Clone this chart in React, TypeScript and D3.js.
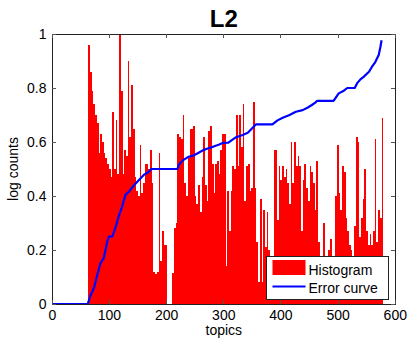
import React from 'react';
import * as d3 from 'd3';

// histogram: log counts per topic, grouped in 3-topic bins starting at topic 63
const binStart = 63;
const binWidth = 3;
const histValues = [
  0.96, 0.86, 0.79, 0.74, 0.70, 0.67, 0.56, 0.63, 0.60, 0.56,
  0.54, 0.52, 0.50, 0.47, 0.71, 0.50, 0.68, 0.48, 1.0, 0.79,
  0.48, 0.57, 0.55, 0.90, 0.62, 0.81, 0.65, 0.47, 0.42, 0.40,
  0.59, 0.41, 0.45, 0.52, 0.52, 0.50, 0.57, 0.45, 0.12, 0.11,
  0.12, 0.56, 0.16, 0.27, 0.22, 0.22, 0, 0, 0, 0.115,
  0.28, 0.30, 0.63, 0.62, 0.61, 0.70, 0.45, 0.40, 0.54, 0.65,
  0.65, 0.66, 0.40, 0.37, 0.44, 0.34, 0.47, 0.62, 0.44, 0.38,
  0.64, 0.66, 0.52, 0.41, 0.52, 0.53, 0.48, 0.57, 0.63, 0.63,
  0.14, 0.42, 0.27, 0.42, 0.51, 0.50, 0.70, 0.51, 0.70, 0.58,
  0.74, 0.38, 0.51, 0.52, 0.42, 0.43, 0.75, 0.43, 0.23, 0.08,
  0.39, 0.08, 0.35, 0.21, 0.34, 0.20, 0.10, 0.10, 0.57, 0.57,
  0.31, 0.51, 0.46, 0.51, 0.47, 0.50, 0.45, 0.37, 0.60, 0.45,
  0.60, 0.51, 0.55, 0.51, 0.27, 0.46, 0.52, 0.43, 0.38, 0.51,
  0.49, 0.45, 0.35, 0.53, 0.23, 0.10, 0.12, 0.30, 0.08, 0.12,
  0.20, 0.24, 0.10, 0.08, 0.40, 0.59, 0.41, 0.35, 0.51, 0.49,
  0.32, 0.27, 0.22, 0.20, 0.16, 0.29, 0.62, 0.60, 0.25, 0.32,
  0.39, 0.50, 0.27, 0.22, 0.26, 0.22, 0.27, 0.61, 0.23, 0.35,
  0.32, 0.69,
];

// error curve (topic, value)
const errTopics = [
  0, 62, 66, 73, 79, 84, 90, 93, 96, 99, 105, 111, 117, 122, 128, 134, 143, 152, 160, 169,
  173, 219, 221, 229, 238, 247, 256, 264, 273, 282, 291, 299, 308, 314, 321, 333, 342, 348, 356, 385,
  394, 403, 415, 426, 438, 447, 454, 460, 463, 492, 501, 510, 516, 529, 533, 539, 545, 554, 559, 565,
  571, 574, 576,
];
const errValues = [
  0, 0, 0.027, 0.06, 0.11, 0.15, 0.17, 0.20, 0.23, 0.25, 0.25, 0.286, 0.33, 0.36, 0.404, 0.416, 0.44, 0.46, 0.478, 0.49,
  0.5, 0.5, 0.515, 0.533, 0.545, 0.55, 0.56, 0.57, 0.577, 0.583, 0.59, 0.597, 0.598, 0.607, 0.617, 0.626, 0.634, 0.647, 0.665, 0.665,
  0.68, 0.69, 0.70, 0.712, 0.718, 0.728, 0.737, 0.746, 0.752, 0.752, 0.78, 0.79, 0.80, 0.80, 0.817, 0.832, 0.842, 0.86, 0.878, 0.896,
  0.922, 0.953, 0.977,
];

const xTicks = [0, 100, 200, 300, 400, 500, 600];
const yTicks = [0, 0.2, 0.4, 0.6, 0.8, 1];

const W = 409;
const H = 339;
const margin = { left: 52.3, right: 13.7, top: 34, bottom: 35 };
const font = '"Liberation Sans", Arial, Helvetica, sans-serif';

export default function App() {
  const x = d3.scaleLinear().domain([0, 600]).range([margin.left, W - margin.right]);
  const y = d3.scaleLinear().domain([0, 1]).range([H - margin.bottom, margin.top]);
  const x0 = x.range()[0], x1 = x.range()[1];
  const y0 = y.range()[0], y1 = y.range()[1];

  const line = d3.line<number>()
    .x((_, i) => x(errTopics[i]))
    .y((d) => y(d));

  const legX = 266.5, legY = 256.5, legW = 121.5, legH = 42.5;

  return (
    <div style={{ position: 'fixed', left: 0, top: 0, width: W, height: H, background: '#fff' }}>
      <svg width={W} height={H} style={{ display: 'block' }}>
        <rect x={0} y={0} width={W} height={H} fill="#fff" />
        <text x={(x0 + x1) / 2} y={26.5} textAnchor="middle" fontFamily={font} fontWeight="bold" fontSize={24} fill="#000">L2</text>

        {/* histogram bars */}
        <g shapeRendering="crispEdges">
          {histValues.map((v, i) => (
            v > 0 ? (
              <rect key={i}
                x={x(binStart + i * binWidth)}
                width={x(binWidth) - x(0)}
                y={y(Math.min(v, 1))}
                height={y(0) - y(Math.min(v, 1))}
                fill="#ff0000" />
            ) : null
          ))}
        </g>

        {/* error curve */}
        <path d={line(errValues) || ''} fill="none" stroke="#0000ff" strokeWidth={2.2} strokeLinejoin="round" />

        {/* box and ticks */}
        <rect x={x0} y={y1} width={x1 - x0} height={y0 - y1} fill="none" stroke="#222" strokeWidth={1} shapeRendering="crispEdges" />
        <g stroke="#555" strokeWidth={1} shapeRendering="crispEdges">
          {xTicks.map((t) => (
            <g key={'xt' + t}>
              <line x1={x(t)} x2={x(t)} y1={y0} y2={y0 - 4} />
              <line x1={x(t)} x2={x(t)} y1={y1} y2={y1 + 4} />
            </g>
          ))}
          {yTicks.map((t) => (
            <g key={'yt' + t}>
              <line x1={x0} x2={x0 + 4} y1={y(t)} y2={y(t)} />
              <line x1={x1} x2={x1 - 4} y1={y(t)} y2={y(t)} />
            </g>
          ))}
        </g>
        <g fontFamily={font} fontSize={14} fill="#000">
          {xTicks.map((t) => (
            <text key={'xl' + t} x={x(t)} y={320} textAnchor="middle">{t}</text>
          ))}
          {yTicks.map((t) => (
            <text key={'yl' + t} x={46.5} y={y(t) + 5} textAnchor="end">{t}</text>
          ))}
          <text x={(x0 + x1) / 2} y={335} textAnchor="middle">topics</text>
          <text transform={`translate(18,${(y0 + y1) / 2}) rotate(-90)`} textAnchor="middle">log counts</text>
        </g>

        {/* legend */}
        <g>
          <rect x={legX} y={legY} width={legW} height={legH} fill="#fff" stroke="#222" strokeWidth={1} shapeRendering="crispEdges" />
          <rect x={legX + 6} y={legY + 3.5} width={33} height={15} fill="#ff0000" />
          <line x1={legX + 6} x2={legX + 39} y1={legY + 30} y2={legY + 30} stroke="#0000ff" strokeWidth={2.2} />
          <text x={legX + 42} y={legY + 18.5} fontFamily={font} fontSize={14} fill="#000">Histogram</text>
          <text x={legX + 42} y={legY + 36.5} fontFamily={font} fontSize={14} fill="#000">Error curve</text>
        </g>
      </svg>
    </div>
  );
}
